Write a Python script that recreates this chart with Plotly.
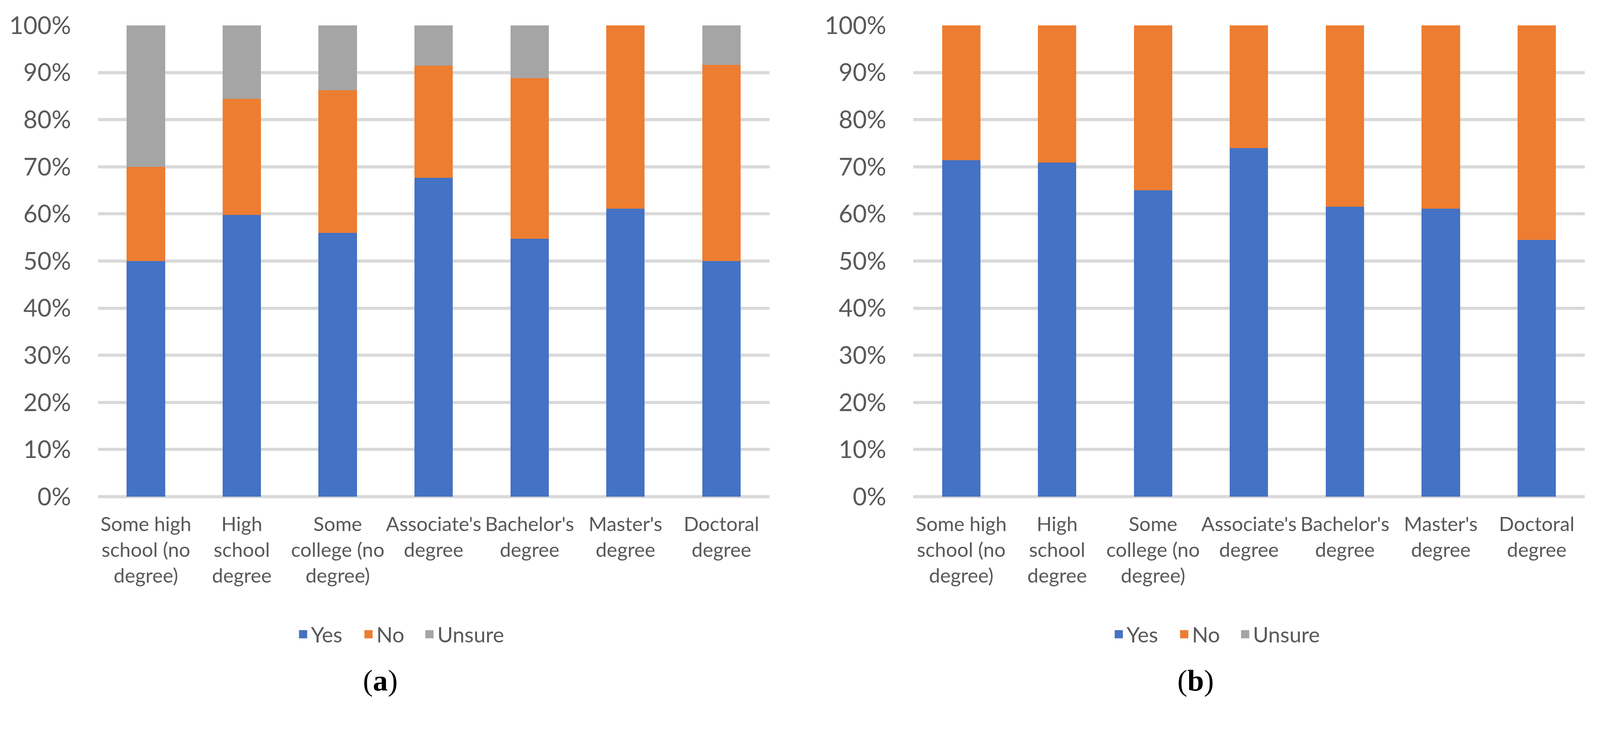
import plotly.graph_objects as go

categories = [
    "Some high<br>school (no<br>degree)",
    "High<br>school<br>degree",
    "Some<br>college (no<br>degree)",
    "Associate's<br>degree",
    "Bachelor's<br>degree",
    "Master's<br>degree",
    "Doctoral<br>degree",
]

# Panel (a) values (%)
a_yes = [50.0, 59.8, 56.0, 67.7, 54.7, 61.1, 50.0]
a_no = [20.0, 24.6, 30.2, 23.8, 34.1, 38.9, 41.6]
a_unsure = [30.0, 15.6, 13.8, 8.5, 11.2, 0.0, 8.4]

# Panel (b) values (%)
b_yes = [71.4, 70.9, 65.0, 74.0, 61.5, 61.1, 54.5]
b_no = [28.6, 29.1, 35.0, 26.0, 38.5, 38.9, 45.5]
b_unsure = [0.0, 0.0, 0.0, 0.0, 0.0, 0.0, 0.0]

series_names = ["Yes", "No", "Unsure"]
colors = ["#4472C4", "#ED7D31", "#A5A5A5"]
y_ticks = [0, 10, 20, 30, 40, 50, 60, 70, 80, 90, 100]
captions = ["(<b>a</b>)", "(<b>b</b>)"]

# The screenshot is 4280x1886 device px for a ~4096 CSS px wide viewport.
K = 4280 / 4096
OFF = 8  # default body margin (CSS px)
FIG_W, FIG_H = 4080, 1789


def fx(ref_x):
    return (ref_x / K - OFF) / FIG_W


def fy(ref_y):
    return 1 - (ref_y / K - OFF) / FIG_H


def px(v):
    return v / K


TEXT = "#595959"
GRID = "#D9D9D9"
FONT = "Lato, 'Open Sans', sans-serif"

# legend entry widths (px) giving the original spacing between entries
legend_widths = [px(175) - 45, px(163) - 45, None]

fig = go.Figure()

panels = [
    ("x", "y", "legend", [a_yes, a_no, a_unsure]),
    ("x2", "y2", "legend2", [b_yes, b_no, b_unsure]),
]
for xa, ya, lg, vals in panels:
    for name, col, v in zip(series_names, colors, vals):
        fig.add_trace(go.Bar(
            x=categories, y=v, name=name, marker=dict(color=col, line=dict(width=0)),
            xaxis=xa, yaxis=ya, showlegend=False, hoverinfo="skip",
        ))
    # legend entries (square swatches like the original)
    for name, col, lw in zip(series_names, colors, legend_widths):
        fig.add_trace(go.Scatter(
            x=[None], y=[None], mode="markers", name=name,
            marker=dict(symbol="square", size=16, color=col, line=dict(color=col, width=5)),
            xaxis=xa, yaxis=ya, legend=lg, showlegend=True, hoverinfo="skip",
            legendwidth=lw,
        ))

xdom = [[fx(262), fx(2058)], [fx(2443), fx(4239)]]
ydom = [fy(1328), fy(68)]

axis_common_x = dict(
    type="category", showgrid=False, showline=False, zeroline=False, ticks="",
    tickangle=0, tickfont=dict(family=FONT, size=px(53), color=TEXT),
    ticklabelstandoff=36, automargin=False,
)
axis_common_y = dict(
    range=[0, 100], tickmode="array", tickvals=y_ticks,
    ticktext=[f"{t}%" for t in y_ticks],
    showgrid=True, gridcolor=GRID, gridwidth=px(8),
    zeroline=True, zerolinecolor=GRID, zerolinewidth=px(8),
    showline=False, ticks="",
    tickfont=dict(family=FONT, size=px(65), color=TEXT),
    ticklabelstandoff=int(round(px(71))), automargin=False,
)

legend_common = dict(
    orientation="h", xanchor="center", yanchor="middle", y=fy(1696),
    font=dict(family=FONT, size=px(57), color=TEXT), traceorder="normal",
    bgcolor="rgba(0,0,0,0)", itemclick=False, itemdoubleclick=False,
    itemsizing="trace",
)

fig.update_layout(
    template="none",
    width=FIG_W, height=FIG_H,
    margin=dict(l=0, r=0, t=0, b=0, pad=0, autoexpand=False),
    paper_bgcolor="white", plot_bgcolor="white",
    barmode="stack", bargap=0.6,
    xaxis=dict(domain=xdom[0], anchor="y", **axis_common_x),
    xaxis2=dict(domain=xdom[1], anchor="y2", **axis_common_x),
    yaxis=dict(domain=ydom, anchor="x", **axis_common_y),
    yaxis2=dict(domain=ydom, anchor="x2", **axis_common_y),
    legend=dict(x=fx(1072), **legend_common),
    legend2=dict(x=fx(3254), **legend_common),
    showlegend=True,
)

for cx, txt in zip([fx(1017), fx(3198)], captions):
    fig.add_annotation(
        x=cx, y=fy(1820), xref="paper", yref="paper",
        text=txt, showarrow=False, xanchor="center", yanchor="middle",
        font=dict(family="'Liberation Serif', 'Times New Roman', serif", size=px(80), color="black"),
    )

fig.write_html("out.html")
